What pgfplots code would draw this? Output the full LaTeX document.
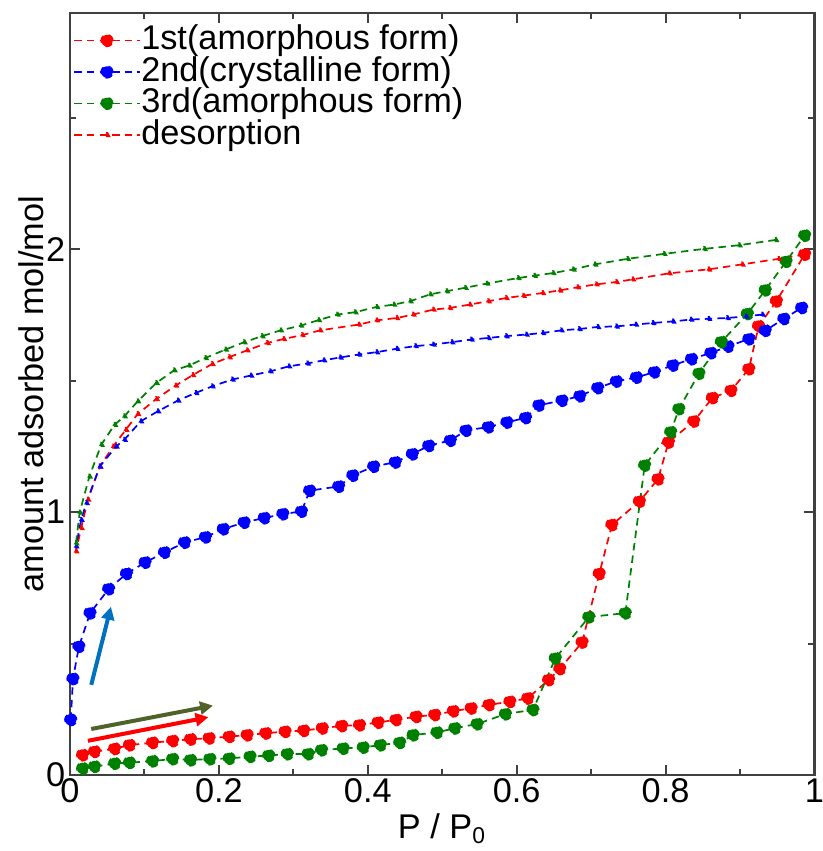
\documentclass[border=0pt]{standalone}
\usepackage{fontspec}
\setmainfont{Liberation Sans}
\usepackage{pgfplots}
\pgfplotsset{compat=1.18}
\usetikzlibrary{arrows.meta}
\definecolor{dgreen}{RGB}{0,128,0}
\definecolor{arrblue}{RGB}{0,112,192}
\definecolor{arrolive}{RGB}{79,98,40}
\begin{document}
\begin{tikzpicture}
\begin{axis}[
  scale only axis, width=260.5pt, height=266.7pt,
  xmin=0, xmax=1, ymin=0, ymax=2.9,
  xtick={0,0.2,0.4,0.6,0.8,1}, minor xtick={0.1,0.3,0.5,0.7,0.9},
  ytick={0,1,2}, minor ytick={0.5,1.5,2.5},
  xticklabels={0,0.2,0.4,0.6,0.8,1},
  yticklabels={0,1,2},
  tick align=inside, xticklabel pos=bottom, yticklabel pos=left,
  xtick pos=both, ytick pos=both,
  major tick length=3.5pt, minor tick length=2.2pt,
  axis line style={black!75, line width=0.8pt},
  every tick/.style={black!75, line width=0.7pt},
  tick label style={font=\fontsize{12}{14}\selectfont},
  yticklabel style={inner sep=1.5pt},
  xticklabel style={inner sep=1.2pt},
  label style={font=\fontsize{12}{14}\selectfont},
  xlabel={P / P\textsubscript{0}},
  ylabel={amount adsorbed mol/mol},
  xlabel style={at={(axis description cs:0.5,-0.07)}, anchor=center},
  ylabel style={at={(axis description cs:-0.036,0.5)}, anchor=base, rotate=0},
  legend style={at={(axis description cs:0.004,0.985)}, anchor=north west, draw=none, fill=none,
    font=\fontsize{12}{12}\selectfont, inner sep=0pt, row sep=0pt,
    nodes={inner sep=0.3pt, text height=8.4pt, text depth=2pt}},
  legend cell align=left,
  legend image code/.code={\draw[mark repeat=2,mark phase=2,#1] plot coordinates {(0pt,0pt) (11.4pt,0pt) (22.8pt,0pt)};},
  ads/.style={dash pattern=on 2.6pt off 1.8pt, line width=0.6pt, mark=*, mark size=2pt, mark options={solid}},
  des/.style={dash pattern=on 2.6pt off 1.8pt, line width=0.6pt, mark=triangle*, mark size=0.9pt, mark options={solid, rotate=90}},
]
\addplot[ads, red, mark options={fill=red}] coordinates {
(0.017,0.076) (0.033,0.089) (0.060,0.100) (0.080,0.114) (0.111,0.123) (0.138,0.130)
(0.162,0.136) (0.187,0.140) (0.214,0.146) (0.238,0.152) (0.263,0.159) (0.289,0.165)
(0.314,0.169) (0.339,0.178) (0.365,0.187) (0.389,0.190) (0.414,0.200) (0.438,0.210)
(0.465,0.222) (0.490,0.229) (0.515,0.243) (0.539,0.254) (0.563,0.267) (0.591,0.279)
(0.615,0.292) (0.643,0.362) (0.658,0.404) (0.688,0.505) (0.711,0.766) (0.728,0.952)
(0.765,1.041) (0.790,1.126) (0.804,1.266) (0.838,1.346) (0.863,1.435) (0.888,1.463)
(0.912,1.545) (0.925,1.708) (0.949,1.803) (0.987,1.981)};
\addlegendentry{1st(amorphous form)}
\addplot[ads, blue, mark options={fill=blue}] coordinates {
(0.001,0.210) (0.004,0.366) (0.012,0.489) (0.027,0.616) (0.052,0.708) (0.076,0.766)
(0.101,0.809) (0.127,0.847) (0.154,0.885) (0.182,0.905) (0.206,0.936) (0.234,0.961)
(0.261,0.978) (0.286,0.993) (0.311,1.003) (0.322,1.082) (0.361,1.098) (0.380,1.140)
(0.408,1.174) (0.437,1.190) (0.460,1.221) (0.482,1.253) (0.511,1.273) (0.532,1.311)
(0.562,1.324) (0.587,1.342) (0.612,1.359) (0.630,1.407) (0.661,1.425) (0.685,1.442)
(0.709,1.473) (0.734,1.498) (0.761,1.513) (0.785,1.533) (0.810,1.559) (0.835,1.583)
(0.861,1.606) (0.884,1.631) (0.912,1.659) (0.934,1.691) (0.959,1.736) (0.983,1.778)};
\addlegendentry{2nd(crystalline form)}
\addplot[ads, dgreen, mark options={fill=dgreen}] coordinates {
(0.017,0.025) (0.033,0.032) (0.060,0.044) (0.080,0.047) (0.111,0.053) (0.138,0.061)
(0.162,0.057) (0.188,0.061) (0.214,0.063) (0.242,0.070) (0.267,0.074) (0.292,0.080)
(0.320,0.080) (0.338,0.095) (0.367,0.101) (0.394,0.105) (0.417,0.114) (0.443,0.123)
(0.461,0.152) (0.493,0.162) (0.517,0.178) (0.547,0.194) (0.585,0.232) (0.622,0.248)
(0.652,0.444) (0.697,0.601) (0.746,0.616) (0.772,1.178) (0.807,1.305) (0.818,1.393)
(0.845,1.528) (0.875,1.648) (0.910,1.755) (0.934,1.845) (0.962,1.954) (0.987,2.053)};
\addlegendentry{3rd(amorphous form)}
\addplot[des, red, mark options={fill=red}] coordinates {
(0.987,1.981) (0.952,1.964) (0.903,1.943) (0.858,1.924) (0.805,1.909) (0.756,1.886)
(0.734,1.876) (0.707,1.867) (0.682,1.856) (0.658,1.844) (0.635,1.834) (0.609,1.824)
(0.586,1.815) (0.562,1.803) (0.537,1.790) (0.510,1.777) (0.488,1.771) (0.461,1.752)
(0.439,1.739) (0.412,1.730) (0.388,1.714) (0.336,1.692) (0.312,1.674) (0.287,1.659)
(0.265,1.644) (0.238,1.616) (0.214,1.590) (0.191,1.564) (0.165,1.522) (0.142,1.482)
(0.116,1.431) (0.091,1.374) (0.075,1.314) (0.058,1.250) (0.040,1.174) (0.024,1.048)
(0.015,0.940) (0.008,0.851)};
\addlegendentry{desorption}
\addplot[des, blue, mark options={fill=blue}, forget plot] coordinates {
(0.930,1.752) (0.908,1.745) (0.883,1.739) (0.858,1.736) (0.834,1.733) (0.810,1.726)
(0.783,1.720) (0.760,1.714) (0.734,1.707) (0.709,1.705) (0.684,1.697) (0.660,1.692)
(0.635,1.682) (0.613,1.676) (0.586,1.670) (0.562,1.663) (0.539,1.657) (0.513,1.647)
(0.488,1.638) (0.464,1.632) (0.439,1.622) (0.412,1.609) (0.388,1.600) (0.363,1.589)
(0.341,1.578) (0.319,1.566) (0.294,1.555) (0.269,1.536) (0.243,1.520) (0.218,1.505)
(0.191,1.479) (0.169,1.454) (0.145,1.425) (0.118,1.384) (0.095,1.346) (0.073,1.276)
(0.062,1.250) (0.040,1.174) (0.022,1.035) (0.015,0.971) (0.008,0.870)};
\addplot[des, dgreen, mark options={fill=dgreen}, forget plot] coordinates {
(0.948,2.036) (0.899,2.016) (0.852,2.002) (0.798,1.983) (0.749,1.964) (0.705,1.943)
(0.676,1.924) (0.649,1.910) (0.624,1.900) (0.602,1.891) (0.560,1.870) (0.531,1.854)
(0.506,1.841) (0.484,1.829) (0.457,1.803) (0.435,1.790) (0.412,1.781) (0.383,1.761)
(0.359,1.752) (0.334,1.731) (0.310,1.710) (0.283,1.692) (0.258,1.670) (0.234,1.647)
(0.209,1.619) (0.182,1.587) (0.160,1.558) (0.140,1.540) (0.116,1.492) (0.091,1.422)
(0.073,1.365) (0.060,1.333) (0.042,1.257) (0.026,1.136) (0.013,0.999) (0.008,0.882)};
\draw[arrblue, line width=1.4pt, -{Triangle[length=4.5pt,width=4.5pt]}] (axis cs:0.0285,0.343) -- (axis cs:0.055,0.640);
\draw[arrolive, line width=1.4pt, -{Triangle[length=4.5pt,width=4.5pt]}] (axis cs:0.0285,0.175) -- (axis cs:0.192,0.264);
\draw[red, line width=1.4pt, -{Triangle[length=4.5pt,width=4.5pt]}] (axis cs:0.024,0.130) -- (axis cs:0.186,0.220);
\end{axis}
\pgfresetboundingbox
\path[use as bounding box] ([shift={(-24.5pt,-26.6pt)}]current axis.south west) rectangle ([shift={(3pt,4.5pt)}]current axis.north east);
\end{tikzpicture}
\end{document}
